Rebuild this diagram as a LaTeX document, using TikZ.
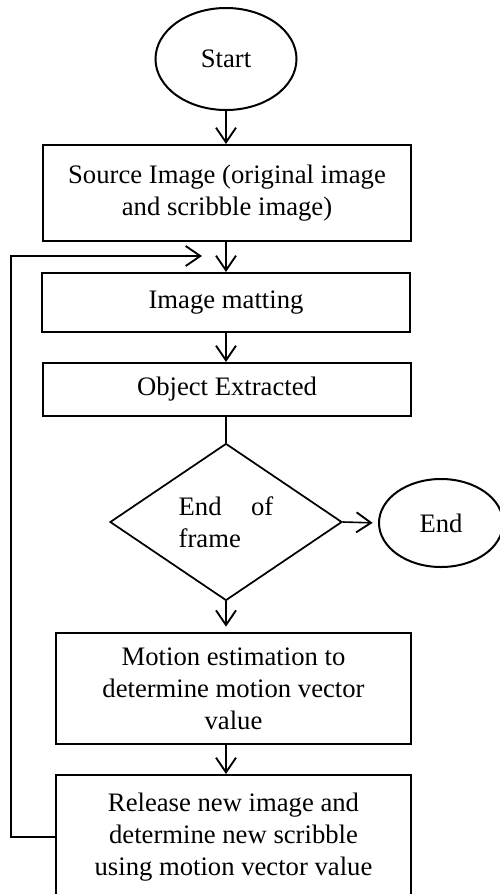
\documentclass[tikz,border=0pt]{standalone}
\usepackage{fontspec}
\setmainfont{Liberation Serif}
\usetikzlibrary{shapes.geometric,arrows.meta}

\tikzset{
  flowbox/.style={draw, line width=1.5pt, rectangle, inner sep=0.75pt, align=center, font=\fontsize{20}{24}\selectfont},
  flowoval/.style={draw, line width=1.5pt, ellipse, inner sep=0.75pt, font=\fontsize{20}{24}\selectfont},
  flowtest/.style={draw, line width=1.3pt, diamond, inner sep=0pt, align=justify, text width=71pt, font=\fontsize{20}{24}\selectfont},
  flowarrow/.style={line width=1.2pt, -{Straight Barb[length=11pt,width=15pt,line width=1.4pt]}}
}

\begin{document}
\begin{tikzpicture}[x=0.75pt,y=0.75pt,yscale=-1,xscale=1]
\clip (0,0) rectangle (500,894); %diagram is 500 wide and 894 high, end and last box run off the edge

%Shape: Ellipse [id:start]
\node [flowoval, minimum width=105.75pt, minimum height=76.5pt] (start) at (226,59) {Start};
%Shape: Rectangle [id:source]
\node [flowbox, minimum width=276pt, minimum height=72pt] (source) at (227,193) {Source Image (original image\\and scribble image)};
%Shape: Rectangle [id:matting]
\node [flowbox, minimum width=276pt, minimum height=44.25pt] (matting) at (226,302.5) {Image matting};
%Shape: Rectangle [id:extracted]
\node [flowbox, minimum width=276pt, minimum height=39.75pt] (extracted) at (227,389.5) {Object Extracted};
%Shape: Diamond [id:endframe]
\node [flowtest, minimum width=174pt, minimum height=117.75pt] (endframe) at (226,522) {End of frame};
%Shape: Ellipse [id:stop]
\node [flowoval, minimum width=93pt, minimum height=66pt] (stop) at (441,523) {End};
%Shape: Rectangle [id:motion]
\node [flowbox, minimum width=266.25pt, minimum height=83.25pt] (motion) at (233.5,688.5) {Motion estimation to\\determine motion vector\\value};
%Shape: Rectangle [id:release]
\node [flowbox, minimum width=266.25pt, minimum height=93pt] (release) at (233.5,837) {Release new image and\\determine new scribble\\using motion vector value};

%Straight Lines [id:arrows] all run down the line x=226 of the start oval
\draw [flowarrow] (start) -- (source.north -| start);
\draw [flowarrow] (source.south -| start) -- (matting.north -| start);
\draw [flowarrow] (matting.south -| start) -- (extracted.north -| start);
\draw [line width=0.9pt] (extracted.south -| start) -- (endframe.north);
\draw [flowarrow, shorten >=4pt] (endframe.east) -- (stop.west);
\draw [flowarrow, shorten >=4pt] (endframe.south) -- (motion.north -| start);
\draw [flowarrow] (motion.south -| start) -- (release.north -| start);

%Straight Lines [id:loop back]
\coordinate (backin) at (202,256);
\draw [flowarrow] (release.west) -- (11,837) -- (11,256) -- (backin);

\end{tikzpicture}
\end{document}
